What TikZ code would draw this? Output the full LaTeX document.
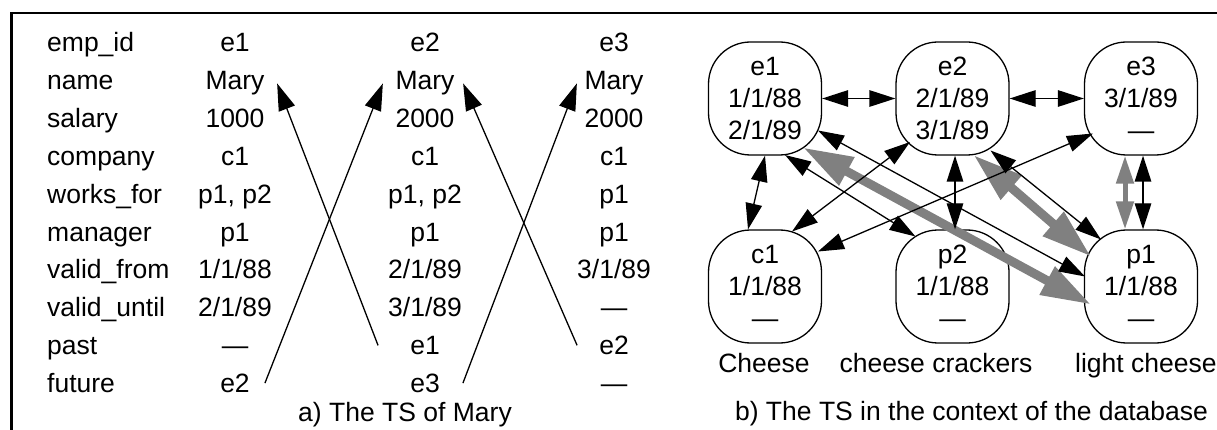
\documentclass[tikz,border=0pt]{standalone}
\usepackage{fontspec}
\setmainfont{Liberation Sans}
\usetikzlibrary{arrows.meta}
\definecolor{tsgray}{RGB}{128,128,128}

\begin{document}
\begin{tikzpicture}[x=1pt, y=-1pt, font=\fontsize{26.5}{32}\selectfont,
		field/.style={anchor=base west, inner sep=0pt},
		cell/.style={anchor=base, inner sep=0pt},
		hist/.style={line width=1.3pt, -{Triangle[length=27pt,width=17pt]}},
		state/.style={draw, line width=1.3pt, rounded corners=42pt, minimum width=113pt, minimum height=113pt, inner sep=0pt, align=center},
		link/.style={line width=1.3pt, {Triangle[length=26pt,width=16.5pt]}-{Triangle[length=26pt,width=16.5pt]}},
		glink/.style={draw=tsgray, line width=5pt, {Triangle[length=28pt,width=17pt]}-{Triangle[length=28pt,width=17pt]}},
		gband/.style={draw=tsgray, line width=9pt, {Triangle[length=50pt,width=30pt]}-{Triangle[length=50pt,width=30pt]}}]
	
	\useasboundingbox (0,0) rectangle (1217,430);
	\draw[line width=2.5pt] (11.5,430) |- (1217,13);
	
	% field names
	\node[field] (f-id)      at (47,52)    {emp\_id};
	\node[field] (f-name)    at (47,89.8)  {name};
	\node[field] (f-sal)     at (47,127.6) {salary};
	\node[field] (f-comp)    at (47,165.4) {company};
	\node[field] (f-works)   at (47,203.2) {works\_for};
	\node[field] (f-man)     at (47,241)   {manager};
	\node[field] (f-from)    at (47,278.8) {valid\_from};
	\node[field] (f-until)   at (47,316.6) {valid\_until};
	\node[field] (f-past)    at (47,354.4) {past};
	\node[field] (f-future)  at (47,392.2) {future};
	
	% version e1
	\node[cell] (m1-id)     at (235,52)    {e1};
	\node[cell] (m1-name)   at (235,89.8)  {Mary};
	\node[cell] (m1-sal)    at (235,127.6) {1000};
	\node[cell] (m1-comp)   at (235,165.4) {c1};
	\node[cell] (m1-works)  at (235,203.2) {p1, p2};
	\node[cell] (m1-man)    at (235,241)   {p1};
	\node[cell] (m1-from)   at (235,278.8) {1/1/88};
	\node[cell] (m1-until)  at (235,316.6) {2/1/89};
	\node[cell] (m1-past)   at (235,354.4) {---};
	\node[cell] (m1-future) at (235,392.2) {e2};
	
	% version e2
	\node[cell] (m2-id)     at (425,52)    {e2};
	\node[cell] (m2-name)   at (425,89.8)  {Mary};
	\node[cell] (m2-sal)    at (425,127.6) {2000};
	\node[cell] (m2-comp)   at (425,165.4) {c1};
	\node[cell] (m2-works)  at (425,203.2) {p1, p2};
	\node[cell] (m2-man)    at (425,241)   {p1};
	\node[cell] (m2-from)   at (425,278.8) {2/1/89};
	\node[cell] (m2-until)  at (425,316.6) {3/1/89};
	\node[cell] (m2-past)   at (425,354.4) {e1};
	\node[cell] (m2-future) at (425,392.2) {e3};
	
	% version e3
	\node[cell] (m3-id)     at (614,52)    {e3};
	\node[cell] (m3-name)   at (614,89.8)  {Mary};
	\node[cell] (m3-sal)    at (614,127.6) {2000};
	\node[cell] (m3-comp)   at (614,165.4) {c1};
	\node[cell] (m3-works)  at (614,203.2) {p1};
	\node[cell] (m3-man)    at (614,241)   {p1};
	\node[cell] (m3-from)   at (614,278.8) {3/1/89};
	\node[cell] (m3-until)  at (614,316.6) {---};
	\node[cell] (m3-past)   at (614,354.4) {e2};
	\node[cell] (m3-future) at (614,392.2) {---};
	
	% past / future pointers
	\draw[hist] ([xshift=-32pt]m2-past.west) -- ([xshift=12.5pt]m1-name.east);
	\draw[hist] ([xshift=15pt]m1-future.east) -- ([xshift=-12.5pt]m2-name.west);
	\draw[hist] ([xshift=-22pt]m3-past.west) -- ([xshift=8.5pt]m2-name.east);
	\draw[hist] ([xshift=23pt]m2-future.east) -- ([xshift=-7.5pt]m3-name.west);
	
	\node[cell] (cap-a) at (405,421) {a) The TS of Mary};
	
	% objects of the database
	\node[state] (e1) at (765,98.5)    {e1\\1/1/88\\2/1/89};
	\node[state] (e2) at (952.5,98.5)  {e2\\2/1/89\\3/1/89};
	\node[state] (e3) at (1141,98.5)   {e3\\3/1/89\\---};
	\node[state] (c1) at (765,286.5)   {c1\\1/1/88\\---};
	\node[state] (p2) at (952.5,286.5) {p2\\1/1/88\\---};
	\node[state] (p1) at (1141,286.5)  {p1\\1/1/88\\---};
	
	\node[cell] (c1-lab) at (764,372) {Cheese};
	\node[cell] (p2-lab) at (936,372) {cheese crackers};
	\node[anchor=base west, inner sep=0pt] (p1-lab) at (1075,372) {light cheese};
	
	% gray links
	\draw[gband] ([shift={(38,49)}]e1.center) -- ([shift={(-50,18)}]p1.center);
	\draw[gband] ([shift={(21,56.5)}]e2.center) -- ([shift={(-50,-30)}]p1.center);
	\draw[glink] ([xshift=-16pt]e3.south) -- ([xshift=-16pt]p1.north);
	
	% black links
	\draw[link] (e1.east) -- (e2.west);
	\draw[link] (e2.east) -- (e3.west);
	\draw[link] (e1.south) -- ([xshift=-17pt]c1.north);
	\draw[link] ([shift={(-42.5,43.5)}]e2.center) -- ([shift={(27,-55)}]c1.center);
	\draw[link] ([shift={(-48,35)}]e3.center) -- ([shift={(53,-35)}]c1.center);
	\draw[link] ([shift={(20,56.5)}]e1.center) -- ([shift={(-37,-50)}]p2.center);
	\draw[link] ([shift={(53,32)}]e1.center) -- ([shift={(-56,-10)}]p1.center);
	\draw[link] ([xshift=2.5pt]e2.south) -- ([xshift=2.5pt]p2.north);
	\draw[link] ([shift={(38,52)}]e2.center) -- ([shift={(-40,-47)}]p1.center);
	\draw[link] ([xshift=2pt]e3.south) -- ([xshift=2pt]p1.north);
	
	\node[cell] (cap-b) at (971.5,420) {b) The TS in the context of the database};
\end{tikzpicture}
\end{document}
